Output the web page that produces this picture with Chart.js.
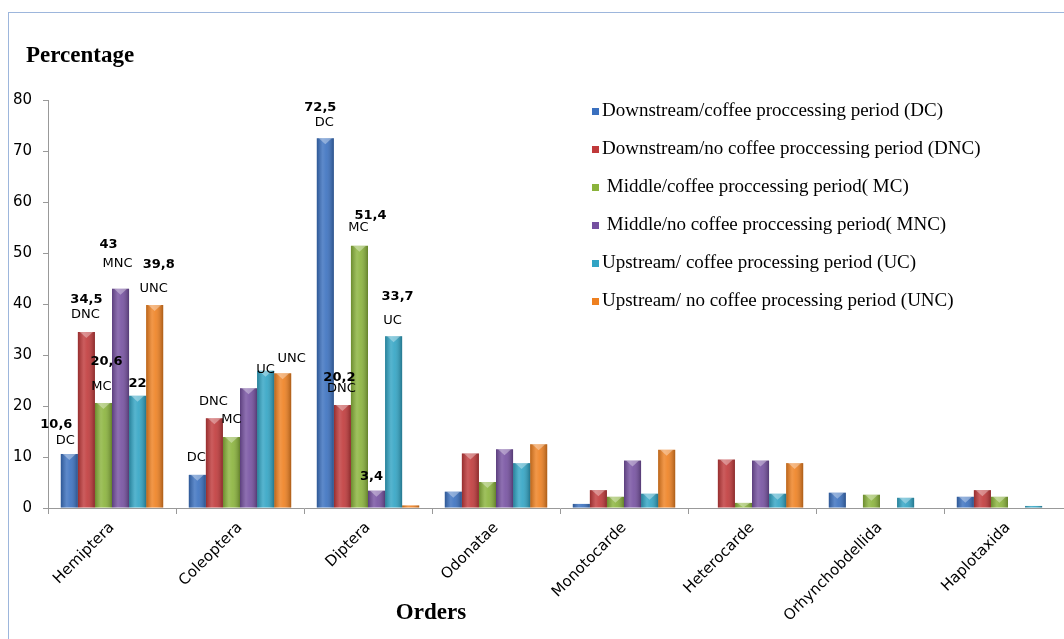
<!DOCTYPE html>
<html>
<head>
<meta charset="utf-8">
<script src="https://cdn.jsdelivr.net/npm/chart.js@4.4.1/dist/chart.umd.min.js"></script>
<style>
  html, body { margin: 0; padding: 0; background: #fff; overflow: hidden; }
  #wrap { position: relative; width: 1080px; height: 639px; }
</style>
</head>
<body>
<div id="wrap"><canvas id="chart" width="1080" height="639"></canvas></div>
<script>
const orders = ["Hemiptera", "Coleoptera", "Diptera", "Odonatae", "Monotocarde", "Heterocarde", "Orhynchobdellida", "Haplotaxida"];

const seriesNames = [
  "Downstream/coffee proccessing period (DC)",
  "Downstream/no coffee proccessing period (DNC)",
  " Middle/coffee proccessing period( MC)",
  " Middle/no coffee proccessing period( MNC)",
  "Upstream/ coffee processing period (UC)",
  "Upstream/ no coffee processing period (UNC)"
];
const seriesCodes = ["DC", "DNC", "MC", "MNC", "UC", "UNC"];

const dcValues  = [10.6, 6.5, 72.5, 3.2, 0.8, 0, 3.0, 2.2];
const dncValues = [34.5, 17.6, 20.2, 10.7, 3.5, 9.5, 0, 3.5];
const mcValues  = [20.6, 13.9, 51.4, 5.1, 2.2, 1.0, 2.6, 2.2];
const mncValues = [43, 23.5, 3.4, 11.5, 9.3, 9.3, 0, 0];
const ucValues  = [22, 26.9, 33.7, 8.8, 2.8, 2.8, 2.0, 0.4];
const uncValues = [39.8, 26.4, 0.5, 12.5, 11.4, 8.8, 0, 0];

const yTicks = [0, 10, 20, 30, 40, 50, 60, 70, 80];

const colors = ["#3a70bf", "#c0393a", "#8ab33b", "#7550a0", "#31a4c4", "#ee8020"];

// which bars carry a value and/or a series code above them: [series, order, showValue, showCode]
const barLabels = [
  [0, 0, true, true], [1, 0, true, true], [2, 0, true, true], [3, 0, true, true], [4, 0, true, false], [5, 0, true, true],
  [0, 1, false, true], [1, 1, false, true], [2, 1, false, true], [4, 1, false, true], [5, 1, false, true],
  [0, 2, true, true], [1, 2, true, true], [2, 2, true, true], [3, 2, true, false], [4, 2, true, true]
];

// nudges for the label text relative to the bar top (value dx, dy, code dx, dy)
const labelNudge = {
  "0,0": [-13, -29, -4, -13], "1,0": [0, -32, -1, -17], "2,0": [3, -41, -2, -16],
  "3,0": [-12, -44, -3, -25], "4,0": [0, -12], "5,0": [4, -40, -1, -16],
  "0,1": [0, 0, -1, -17], "1,1": [0, 0, -1, -17], "2,1": [0, 0, 0, -17],
  "4,1": [0, 0, 0, -1], "5,1": [0, 0, 9, -15],
  "0,2": [-5, -31, -1, -16], "1,2": [-3, -27, -1, -16], "2,2": [11, -30, -1, -18],
  "3,2": [-5, -14], "4,2": [4, -40, -1, -16]
};

const allValues = [dcValues, dncValues, mcValues, mncValues, ucValues, uncValues];

const framePlugin = {
  id: "frame",
  beforeDraw(chart) {
    const ctx = chart.ctx;
    ctx.save();
    ctx.fillStyle = "#fff";
    ctx.fillRect(0, 0, chart.width, chart.height);
    ctx.strokeStyle = "#9db6dc";
    ctx.lineWidth = 1;
    ctx.strokeRect(8.5, 12.5, chart.width + 20, chart.height + 20);
    ctx.restore();
  }
};

// cylinder-ish shading laid over each bar
const shadePlugin = {
  id: "shade",
  afterDatasetsDraw(chart) {
    const ctx = chart.ctx;
    ctx.save();
    chart.data.datasets.forEach((ds, i) => {
      chart.getDatasetMeta(i).data.forEach(bar => {
        const { x, y, base, width } = bar.getProps(["x", "y", "base", "width"], true);
        const h = base - y;
        if (h < 0.5) return;
        const left = x - width / 2;
        const g = ctx.createLinearGradient(left, 0, left + width, 0);
        g.addColorStop(0, "rgba(0,0,0,0.22)");
        g.addColorStop(0.35, "rgba(255,255,255,0.18)");
        g.addColorStop(0.55, "rgba(255,255,255,0.10)");
        g.addColorStop(1, "rgba(0,0,0,0.28)");
        ctx.fillStyle = g;
        ctx.fillRect(left, y, width, h);
        if (h > 4) {
          ctx.fillStyle = "rgba(255,255,255,0.35)";
          ctx.beginPath();
          ctx.moveTo(left + 2, y);
          ctx.lineTo(left + width - 2, y);
          ctx.lineTo(x, y + Math.min(6, h));
          ctx.closePath();
          ctx.fill();
        }
      });
    });
    ctx.restore();
  }
};

const textPlugin = {
  id: "texts",
  afterDraw(chart) {
    const ctx = chart.ctx;
    const area = chart.chartArea;
    ctx.save();
    ctx.fillStyle = "#000";

    // axis captions
    ctx.font = 'bold 23px "Liberation Serif"';
    ctx.textAlign = "left";
    ctx.textBaseline = "alphabetic";
    ctx.fillText("Percentage", 26, 62);
    ctx.textAlign = "center";
    ctx.fillText("Orders", 431, 619);

    // legend
    ctx.font = '19px "Liberation Serif"';
    ctx.textAlign = "left";
    ctx.textBaseline = "middle";
    chart.data.datasets.forEach((ds, i) => {
      const lx = area.left + 544;
      const ly = area.top + 11 + i * 38;
      ctx.fillStyle = ds.backgroundColor;
      ctx.fillRect(lx, ly - 3, 7, 7);
      ctx.fillStyle = "#000";
      ctx.fillText(ds.label, lx + 10, ly);
    });

    // value labels above bars
    ctx.textAlign = "center";
    barLabels.forEach(([s, o, showValue, showCode]) => {
      const bar = chart.getDatasetMeta(s).data[o];
      const { x, y } = bar.getProps(["x", "y"], true);
      const n = labelNudge[s + "," + o];
      if (showValue) {
        ctx.font = 'bold 13px "DejaVu Sans"';
        ctx.fillText(String(allValues[s][o]).replace(".", ","), x + n[0], y + n[1]);
      }
      if (showCode) {
        ctx.font = '13px "DejaVu Sans"';
        ctx.fillText(seriesCodes[s], x + n[2], y + n[3]);
      }
    });
    ctx.restore();
  }
};

const ctx = document.getElementById("chart").getContext("2d");

new Chart(ctx, {
  type: "bar",
  data: {
    labels: orders,
    datasets: allValues.map((vals, i) => ({
      label: seriesNames[i],
      data: vals,
      backgroundColor: colors[i],
      borderWidth: 0,
      barPercentage: 1,
      categoryPercentage: 0.8
    }))
  },
  options: {
    responsive: false,
    devicePixelRatio: 1,
    animation: false,
    layout: { padding: { top: 100, right: 8, left: 0, bottom: 0 } },
    plugins: {
      legend: { display: false },
      tooltip: { enabled: false }
    },
    scales: {
      x: {
        offset: true,
        grid: { display: true, drawOnChartArea: false, drawTicks: true, tickLength: 6, color: "#999", offset: true },
        border: { color: "#999" },
        ticks: {
          minRotation: 45,
          maxRotation: 45,
          color: "#000",
          padding: 5,
          font: { family: "DejaVu Sans", size: 15 }
        },
        afterFit(scale) { scale.height = 131; }
      },
      y: {
        min: yTicks[0],
        max: yTicks[yTicks.length - 1],
        afterBuildTicks(scale) { scale.ticks = yTicks.map(v => ({ value: v })); },
        grid: { display: true, drawOnChartArea: false, drawTicks: true, tickLength: 5, color: "#999" },
        border: { color: "#999" },
        ticks: {
          color: "#000",
          padding: 11,
          font: { family: "DejaVu Sans", size: 15 }
        },
        afterFit(scale) { scale.width = 48; }
      }
    }
  },
  plugins: [framePlugin, shadePlugin, textPlugin]
});
</script>
</body>
</html>
